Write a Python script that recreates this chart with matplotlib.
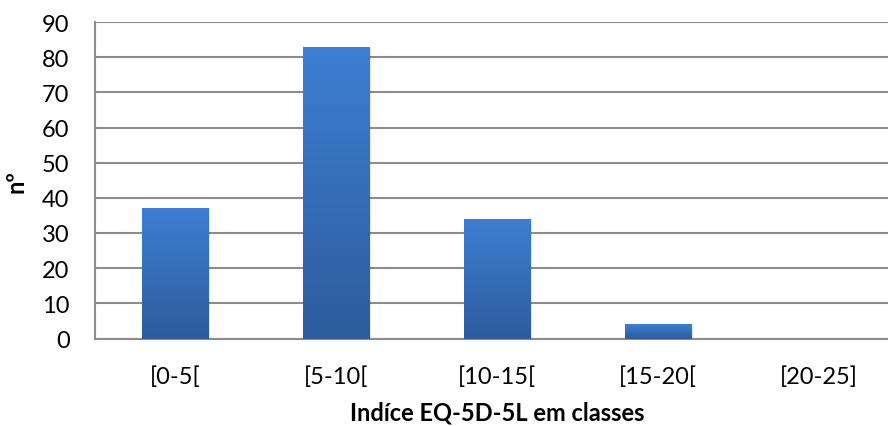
import numpy as np
import matplotlib
matplotlib.use("Agg")
import matplotlib.pyplot as plt
from matplotlib.colors import LinearSegmentedColormap
from matplotlib.patches import Rectangle

categories = ["[0-5[", "[5-10[", "[10-15[", "[15-20[", "[20-25]"]
counts = [37, 83, 34, 4, 0]
y_ticks = [0, 10, 20, 30, 40, 50, 60, 70, 80, 90]

plt.rcParams["font.family"] = ["Lato", "DejaVu Sans"]

W, H = 888, 427
fig = plt.figure(figsize=(W / 100, H / 100), dpi=100)
# plot area: left edge at 95 px, five category slots of ~161 px each
left_px, right_px = 94.5, 899.5
top_px, bottom_px = 23.0, 339.5
ax = fig.add_axes([left_px / W, 1 - bottom_px / H,
                   (right_px - left_px) / W, (bottom_px - top_px) / H])

x = np.arange(len(categories))
bar_w = 0.41
grad = LinearSegmentedColormap.from_list("bar", ["#2d5c9c", "#3d7fd2"])
bars = ax.bar(x, counts, width=bar_w, color="none", zorder=3)
for b in bars:
    h = b.get_height()
    if h <= 0:
        continue
    x0 = b.get_x()
    # soft drop shadow
    ax.add_patch(Rectangle((x0 + 0.012, -0.3), bar_w, h, facecolor="#000000",
                           alpha=0.10, linewidth=0, zorder=2))
    img = np.linspace(0, 1, 256).reshape(-1, 1)
    ax.imshow(img, cmap=grad, aspect="auto", origin="lower",
              extent=(x0, x0 + bar_w, 0, h), zorder=3)

ax.set_xlim(-0.5, len(categories) - 0.5)
ax.set_ylim(0, 90)
ax.set_yticks(y_ticks)
ax.set_xticks(x)
ax.set_xticklabels(categories)
ax.yaxis.grid(True, color="#8c8c8c", linewidth=1.5, zorder=0)
ax.set_axisbelow(True)
for s in ["top", "right"]:
    ax.spines[s].set_visible(False)
for s in ["left", "bottom"]:
    ax.spines[s].set_color("#8c8c8c")
    ax.spines[s].set_linewidth(1.5)
ax.tick_params(axis="both", length=0, labelsize=17, colors="#000000")
ax.tick_params(axis="x", pad=19)
ax.tick_params(axis="y", pad=18)

ax.set_xlabel("Indíce EQ-5D-5L em classes", fontsize=17, fontweight="bold",
              labelpad=10)
ax.set_ylabel("nº", fontsize=17, fontweight="bold", labelpad=10)

fig.savefig("out.png", dpi=100)
